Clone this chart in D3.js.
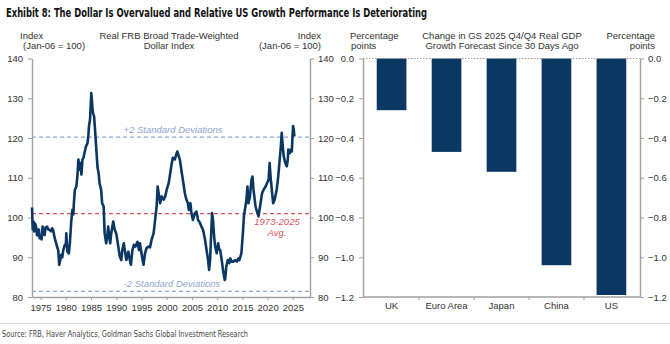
<!DOCTYPE html>
<html>
<head>
<meta charset="utf-8">
<script src="https://cdn.jsdelivr.net/npm/d3@7"></script>
<style>
  html, body { margin: 0; padding: 0; background: #fff; }
  svg { display: block; }
  text { font-family: "Liberation Sans", Arial, sans-serif; }
  .narrow { font-family: "Liberation Sans Narrow", "Arial Narrow", "DejaVu Sans Condensed", sans-serif; }
</style>
</head>
<body>
<svg id="chart" width="670" height="344"></svg>
<script>
// Real FRB broad trade-weighted dollar index (Jan-06 = 100)
const dollarYears = [
  1973.30,1973.45,1973.60,1973.75,1973.90,1974.10,1974.30,1974.50,1974.65,1974.80,
  1975.00,1975.20,1975.40,1975.55,1975.80,1976.00,1976.30,1976.50,1976.80,1977.10,
  1977.30,1977.50,1977.80,1978.10,1978.30,1978.50,1978.70,1978.90,1979.10,1979.30,
  1979.50,1979.80,1980.00,1980.10,1980.30,1980.60,1980.80,1981.10,1981.30,1981.50,
  1981.60,1981.80,1982.10,1982.30,1982.50,1982.70,1982.90,1983.10,1983.30,1983.50,
  1983.70,1984.00,1984.30,1984.50,1984.60,1984.80,1984.95,1985.05,1985.15,1985.30,
  1985.45,1985.60,1985.80,1986.10,1986.30,1986.50,1986.70,1986.85,1987.00,1987.20,
  1987.50,1987.70,1988.00,1988.20,1988.40,1988.60,1988.80,1989.00,1989.40,1989.70,
  1990.00,1990.40,1990.70,1991.00,1991.20,1991.50,1991.70,1992.00,1992.40,1992.70,
  1992.90,1993.20,1993.50,1993.80,1994.20,1994.50,1994.70,1995.00,1995.20,1995.40,
  1995.70,1996.00,1996.40,1996.70,1997.00,1997.40,1997.70,1998.00,1998.20,1998.50,
  1998.70,1999.00,1999.40,1999.70,2000.00,2000.40,2000.60,2000.90,2001.20,2001.60,
  2001.90,2002.10,2002.40,2002.60,2002.90,2003.20,2003.60,2003.90,2004.20,2004.40,
  2004.70,2004.90,2005.20,2005.60,2005.90,2006.20,2006.60,2006.90,2007.20,2007.60,
  2007.90,2008.20,2008.40,2008.60,2008.85,2009.00,2009.20,2009.40,2009.60,2009.90,
  2010.20,2010.40,2010.60,2010.90,2011.20,2011.50,2011.60,2011.80,2012.10,2012.40,
  2012.60,2012.90,2013.20,2013.60,2013.90,2014.20,2014.40,2014.80,2015.10,2015.30,
  2015.60,2015.80,2016.00,2016.20,2016.50,2016.80,2017.00,2017.20,2017.60,2017.90,
  2018.20,2018.60,2018.90,2019.20,2019.60,2019.90,2020.20,2020.40,2020.60,2020.90,
  2021.10,2021.40,2021.80,2022.10,2022.40,2022.60,2022.80,2023.00,2023.20,2023.50,
  2023.80,2024.00,2024.10,2024.40,2024.60,2024.80,2024.90,2025.05,2025.20,2025.30
];
const dollarIndex = [
  102.5,97.0,99.0,96.5,98.5,97.7,95.5,96.0,97.0,94.8,
  95.2,94.5,97.7,96.5,95.6,97.5,97.7,97.0,96.9,96.5,
  97.3,96.8,94.8,93.5,92.5,91.8,88.1,89.3,90.6,90.0,
  91.8,93.1,93.0,96.0,91.4,91.0,93.5,99.4,101.9,100.8,
  103.6,107.0,107.8,110.5,114.6,112.0,113.7,110.8,114.6,115.0,
  116.2,117.9,118.7,121.0,123.0,124.6,128.5,131.3,130.0,127.1,
  126.0,125.5,122.0,116.2,112.5,111.2,108.5,107.8,107.0,103.6,
  102.8,96.0,93.5,95.0,97.7,95.2,93.5,96.0,99.0,96.9,
  96.0,92.7,90.2,89.3,91.8,93.5,91.8,89.3,91.4,89.3,
  88.1,91.8,93.1,92.7,93.9,91.8,93.5,91.0,89.5,88.1,
  91.0,92.3,92.7,92.5,94.4,96.0,99.4,102.8,107.8,105.3,
  103.6,105.3,104.5,105.3,107.0,108.7,110.3,112.9,115.0,114.6,
  115.8,116.6,115.4,114.6,112.0,109.5,106.1,104.5,103.6,101.9,
  103.6,101.1,99.4,101.1,101.5,99.4,98.6,97.7,96.9,94.4,
  91.8,89.3,86.8,89.3,97.0,101.1,99.0,95.2,92.7,91.0,
  93.5,92.0,91.8,89.3,86.4,84.3,84.6,87.6,89.3,88.5,
  89.7,88.9,88.9,89.3,88.9,89.7,89.3,91.0,96.0,100.3,
  102.8,104.5,107.8,103.6,105.3,109.5,110.3,107.0,102.8,101.5,
  100.3,103.6,106.1,107.0,107.8,108.7,109.5,113.7,110.0,106.1,
  103.6,104.5,107.0,110.3,114.6,117.5,121.3,117.9,115.4,113.7,
  112.9,114.6,117.1,116.2,117.1,116.6,119.6,123.0,121.8,120.4
];
const refLevels = [120.2, 101.0, 81.4];          // +2 SD, 1973-2025 avg, -2 SD
const indexTicks = [80, 90, 100, 110, 120, 130, 140];
const yearTicks = [1975, 1980, 1985, 1990, 1995, 2000, 2005, 2010, 2015, 2020, 2025];

// Change in GS 2025 Q4/Q4 real GDP growth forecast since 30 days ago (pp)
const regions = ["UK", "Euro Area", "Japan", "China", "US"];
const forecastChange = [-0.26, -0.47, -0.57, -1.04, -1.19];
const ppTicks = [0.0, -0.2, -0.4, -0.6, -0.8, -1.0, -1.2];

const navy = "#0b3763";
const axisGrey = "#a0a0a0";
const labelCol = "#333";

const svg = d3.select("#chart");

// ---- headline and footer ----
svg.append("text").attr("class", "narrow")
  .attr("x", 6).attr("y", 17)
  .attr("font-size", 12.5).attr("font-weight", "bold").attr("fill", "#111")
  .attr("textLength", 421).attr("lengthAdjust", "spacingAndGlyphs")
  .text("Exhibit 8: The Dollar Is Overvalued and Relative US Growth Performance Is Deteriorating");

svg.append("line").attr("x1", 0).attr("x2", 670).attr("y1", 323.5).attr("y2", 323.5)
  .attr("stroke", "#dcdcdc").attr("stroke-width", 1.2);

svg.append("text").attr("class", "narrow")
  .attr("x", 2).attr("y", 337)
  .attr("font-size", 9.5).attr("fill", "#444")
  .attr("textLength", 246).attr("lengthAdjust", "spacingAndGlyphs")
  .text("Source: FRB, Haver Analytics, Goldman Sachs Global Investment Research");

// two-line panel header; xs gives the x of each line
function header(lines, xs, anchor) {
  const t = svg.append("text").attr("font-size", 9.5).attr("fill", labelCol)
    .attr("text-anchor", anchor);
  lines.forEach((s, i) => t.append("tspan").attr("x", xs[i]).attr("y", 39 + i * 10).text(s));
}

// ---- left panel: dollar index ----
const plotTop = 58.5, plotBottom = 297;
const xL = d3.scaleLinear().domain([1973.3, 2028.4]).range([32, 310]);
const yL = d3.scaleLinear().domain([80, 140]).range([plotBottom, plotTop]);

header(["Index", "(Jan-06 = 100)"], [20, 23], "start");
header(["Real FRB Broad Trade-Weighted", "Dollar Index"], [169, 169], "middle");
header(["Index", "(Jan-06 = 100)"], [321, 321], "end");

function styleAxis(g) {
  g.select(".domain").attr("stroke", axisGrey).attr("stroke-width", 1.4);
  g.selectAll(".tick line").attr("stroke", axisGrey).attr("stroke-width", 1);
  g.selectAll(".tick text").attr("fill", labelCol).attr("font-size", 9.5)
    .attr("font-family", "'Liberation Sans', Arial, sans-serif");
}

svg.append("g").attr("transform", "translate(32,0)")
  .call(d3.axisLeft(yL).tickValues(indexTicks).tickSize(4).tickSizeOuter(0).tickPadding(5))
  .call(styleAxis);
svg.append("g").attr("transform", "translate(310,0)")
  .call(d3.axisRight(yL).tickValues(indexTicks).tickSize(4).tickSizeOuter(0).tickPadding(4))
  .call(styleAxis);
svg.append("g").attr("transform", `translate(0,${plotBottom})`)
  .call(d3.axisBottom(xL).tickValues(yearTicks).tickFormat(d3.format("d")).tickSize(3).tickSizeOuter(0).tickPadding(4))
  .call(styleAxis);

// reference lines
const refColors = ["#90a9cc", "#d9535a", "#90a9cc"];
svg.append("g").selectAll("line").data(refLevels).join("line")
  .attr("x1", 32).attr("x2", 310)
  .attr("y1", d => yL(d)).attr("y2", d => yL(d))
  .attr("stroke", (d, i) => refColors[i]).attr("stroke-width", 1.2)
  .attr("stroke-dasharray", "4,3");

const line = d3.line().x((d, i) => xL(dollarYears[i])).y(d => yL(d));
svg.append("path").datum(dollarIndex)
  .attr("d", line).attr("fill", "none")
  .attr("stroke", navy).attr("stroke-width", 2.6).attr("stroke-linejoin", "round");

svg.append("text").attr("x", 173).attr("y", yL(refLevels[0]) - 4)
  .attr("text-anchor", "middle").attr("font-size", 9.5).attr("font-style", "italic")
  .attr("fill", "#8ea6cc").text("+2 Standard Deviations");
svg.append("text").attr("x", 172).attr("y", yL(refLevels[2]) - 4.5)
  .attr("text-anchor", "middle").attr("font-size", 9.5).attr("font-style", "italic")
  .attr("fill", "#8ea6cc").text("-2 Standard Deviations");
const avgLabel = svg.append("text").attr("text-anchor", "middle").attr("font-size", 9.5)
  .attr("font-style", "italic").attr("fill", "#d9535a");
avgLabel.append("tspan").attr("x", 277).attr("y", yL(refLevels[1]) + 11).text("1973-2025");
avgLabel.append("tspan").attr("x", 277).attr("y", yL(refLevels[1]) + 22).text("Avg.");

// ---- right panel: GDP forecast revisions ----
const xR = d3.scaleBand().domain(regions).range([363, 640]).paddingInner(0.46).paddingOuter(0.25);
const yR = d3.scaleLinear().domain([-1.2, 0]).range([plotBottom, plotTop]);
const fmt = d3.format(".1f");

header(["Percentage", "points"], [350, 351], "start");
header(["Change in GS 2025 Q4/Q4 Real GDP", "Growth Forecast Since 30 Days Ago"], [502, 502], "middle");
header(["Percentage", "points"], [655, 655], "end");

svg.append("g").attr("transform", "translate(363,0)")
  .call(d3.axisLeft(yR).tickValues(ppTicks).tickFormat(fmt).tickSize(4).tickSizeOuter(0).tickPadding(5))
  .call(styleAxis);
svg.append("g").attr("transform", "translate(640,0)")
  .call(d3.axisRight(yR).tickValues(ppTicks).tickFormat(fmt).tickSize(4).tickSizeOuter(0).tickPadding(4))
  .call(styleAxis);

// category axis with ticks at the band boundaries
const catAxis = svg.append("g").attr("transform", `translate(0,${plotBottom})`);
catAxis.append("line").attr("x1", 363).attr("x2", 640)
  .attr("stroke", axisGrey).attr("stroke-width", 1.4);
const step = xR.step();
catAxis.selectAll("line.sep").data(regions.slice(1)).join("line").attr("class", "sep")
  .attr("x1", d => xR(d) - step * xR.paddingInner() / 2)
  .attr("x2", d => xR(d) - step * xR.paddingInner() / 2)
  .attr("y1", 0).attr("y2", 3).attr("stroke", axisGrey);
catAxis.selectAll("text").data(regions).join("text")
  .attr("x", d => xR(d) + xR.bandwidth() / 2).attr("y", 12)
  .attr("text-anchor", "middle").attr("font-size", 9.5).attr("fill", labelCol)
  .text(d => d);

svg.append("g").selectAll("rect").data(forecastChange).join("rect")
  .attr("x", (d, i) => xR(regions[i]))
  .attr("width", xR.bandwidth())
  .attr("y", yR(0))
  .attr("height", d => yR(d) - yR(0))
  .attr("fill", navy);

// dotted zero line
svg.append("line").attr("x1", 363).attr("x2", 640)
  .attr("y1", yR(0)).attr("y2", yR(0))
  .attr("stroke", "#999").attr("stroke-width", 1).attr("stroke-dasharray", "1.5,1.5");
</script>
</body>
</html>
